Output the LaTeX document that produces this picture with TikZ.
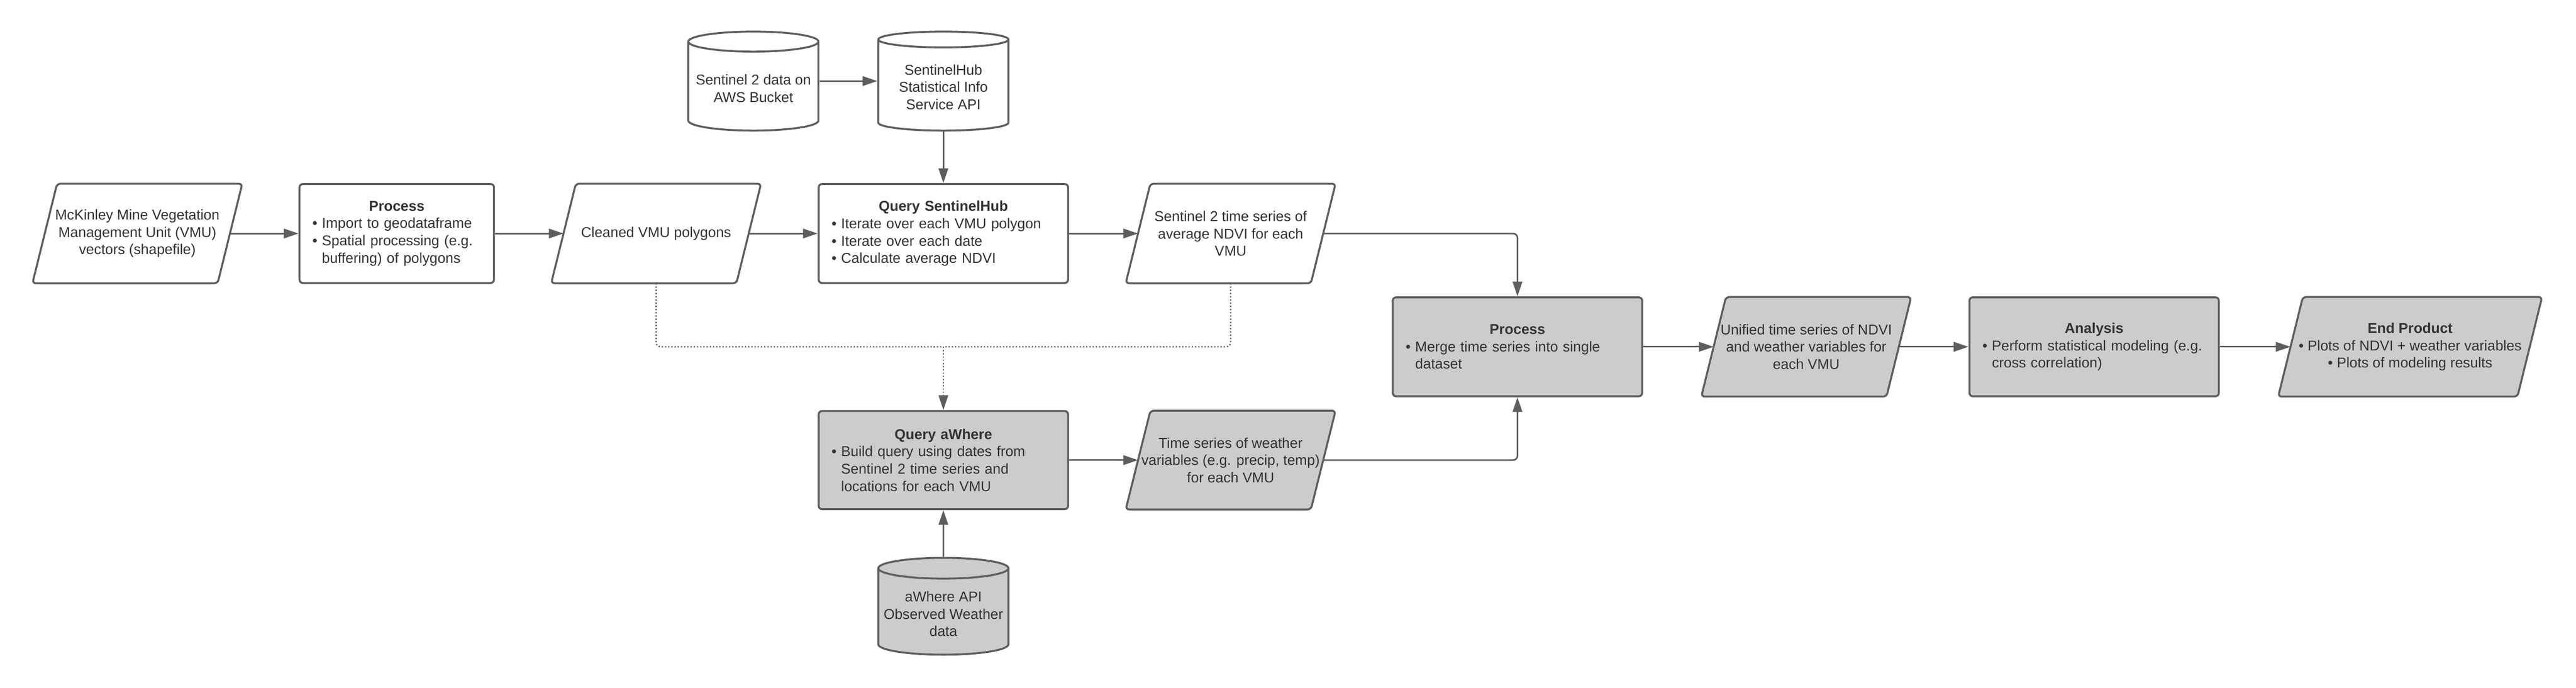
\documentclass[tikz,border=0pt]{standalone}
\usepackage{fontspec}
\setmainfont{Liberation Sans}
\usetikzlibrary{arrows.meta,positioning,shapes.geometric,backgrounds}

\definecolor{linegrey}{HTML}{5E5E5E}
\definecolor{boxgrey}{HTML}{CCCCCC}
\definecolor{txtgrey}{HTML}{333333}

\newcommand{\itm}[1]{\par\hangindent=0.22cm\hangafter=1\noindent\makebox[0.22cm][l]{\textbullet}#1\par}
\newcommand{\ttl}[1]{{\centering\bfseries #1\par}}

\begin{document}
\begin{tikzpicture}[
  on grid,
  >={Triangle[length=0.34cm,width=0.22cm]},
  every node/.style={font=\fontsize{9.4pt}{11.4pt}\selectfont,text=txtgrey},
  proc box/.style={rectangle,rounded corners=0.08cm,draw=linegrey,line width=0.045cm,fill=white,
    minimum width=5.77cm,minimum height=2.29cm,inner xsep=0.3cm,text width=5.17cm,align=left},
  grey proc/.style={proc box,fill=boxgrey},
  data box/.style={rectangle,minimum width=4.27cm,minimum height=2.29cm,inner sep=0pt,align=center},
  para/.style={draw=linegrey,line width=0.045cm,rounded corners=0.08cm},
  store/.style={cylinder,shape border rotate=90,aspect=0.16,draw=linegrey,line width=0.045cm,fill=white,
    minimum width=3.01cm,minimum height=2.29cm,align=center},
  flow/.style={->,draw=linegrey,line width=0.036cm,rounded corners=0.1cm},
  dot line/.style={draw=linegrey,line width=0.032cm,dash pattern=on 0.03cm off 0.044cm,rounded corners=0.1cm},
  dot flow/.style={dot line,->}]
  \useasboundingbox (0,0) rectangle (59.59,-15.90);
  % row 1: VMU polygons and Sentinel 2 NDVI
  \node [data box] (vmu) at (3.1775,-5.40) {McKinley Mine Vegetation\\Management Unit (VMU)\\vectors (shapefile)};
  \node [proc box,minimum width=4.50cm,text width=3.90cm] (prep) [right=6.0cm of vmu]
    {\ttl{Process}\itm{Import to geodataframe}\itm{Spatial processing (e.g.\newline buffering) of polygons}};
  \node [data box] (clean) [right=6.0cm of prep] {Cleaned VMU polygons};
  \node [proc box] (qsh) [right=6.645cm of clean]
    {\ttl{Query SentinelHub}\itm{Iterate over each VMU polygon}\itm{Iterate over each date}\itm{Calculate average NDVI}};
  \node [data box] (s2ts) [right=6.645cm of qsh] {Sentinel 2 time series of\\average NDVI for each\\VMU};
  \node [store] (shapi) [above=3.525cm of qsh,anchor=shape center] {SentinelHub\\Statistical Info\\Service API};
  \node [store] (s2aws) [left=4.395cm of shapi.shape center,anchor=shape center] {Sentinel 2 data on\\AWS Bucket};
  % row 3: aWhere weather
  \node [grey proc,minimum height=2.27cm] (qaw) [below=5.24cm of qsh]
    {\ttl{Query aWhere}\itm{Build query using dates from\newline Sentinel 2 time series and\newline locations for each VMU}};
  \node [data box,minimum height=2.27cm] (weather) [right=6.645cm of qaw] {Time series of weather\\variables (e.g. precip, temp)\\for each VMU};
  \node [store,fill=boxgrey,minimum height=2.24cm] (awapi) [below=3.38cm of qaw,anchor=shape center] {aWhere API\\Observed Weather\\data};
  % row 2: merge and analysis
  \node [grey proc] (merge) [below right=2.62cm and 6.635cm of s2ts]
    {\ttl{Process}\itm{Merge time series into single\newline dataset}};
  \node [data box] (unif) [right=6.68cm of merge] {Unified time series of NDVI\\and weather variables for\\each VMU};
  \node [grey proc] (stats) [right=6.66cm of unif]
    {\ttl{Analysis}\itm{Perform statistical modeling (e.g.\newline cross correlation)}};
  \node [data box,minimum width=5.52cm] (endp) [right=7.31cm of stats]
    {\textbf{End Product}\\\textbullet\ Plots of NDVI + weather variables\\\textbullet\ Plots of modeling results};
  % data shapes
  \begin{scope}[on background layer]
    \foreach \n/\c in {vmu/white,clean/white,s2ts/white,weather/boxgrey,unif/boxgrey,endp/boxgrey}
      \draw [para,fill=\c] ([xshift=-0.285cm]\n.south west) -- ([xshift=0.285cm]\n.north west)
        -- ([xshift=0.285cm]\n.north east) -- ([xshift=-0.285cm]\n.south east) -- cycle;
  \end{scope}
  % connectors
  \draw [flow] (vmu) -- (prep);
  \draw [flow] (prep) -- (clean);
  \draw [flow] (clean) -- (qsh);
  \draw [flow] (qsh) -- (s2ts);
  \draw [flow] (s2aws.east |- s2aws.shape center) -- (shapi.west |- shapi.shape center);
  \draw [flow] (shapi) -- (qsh);
  \draw [flow] (s2ts) -| (merge);
  \draw [flow] (awapi) -- (qaw);
  \draw [flow] (qaw) -- (weather);
  \draw [flow] (weather) -| (merge);
  \draw [flow] (merge) -- (unif);
  \draw [flow] (unif) -- (stats);
  \draw [flow] (stats) -- (endp);
  % dates and locations handed to aWhere
  \coordinate (join) at (qaw |- merge);
  \draw [dot line] (clean) |- (join);
  \draw [dot line] (s2ts) |- (join);
  \draw [dot flow] (join) -- (qaw);
\end{tikzpicture}
\end{document}
